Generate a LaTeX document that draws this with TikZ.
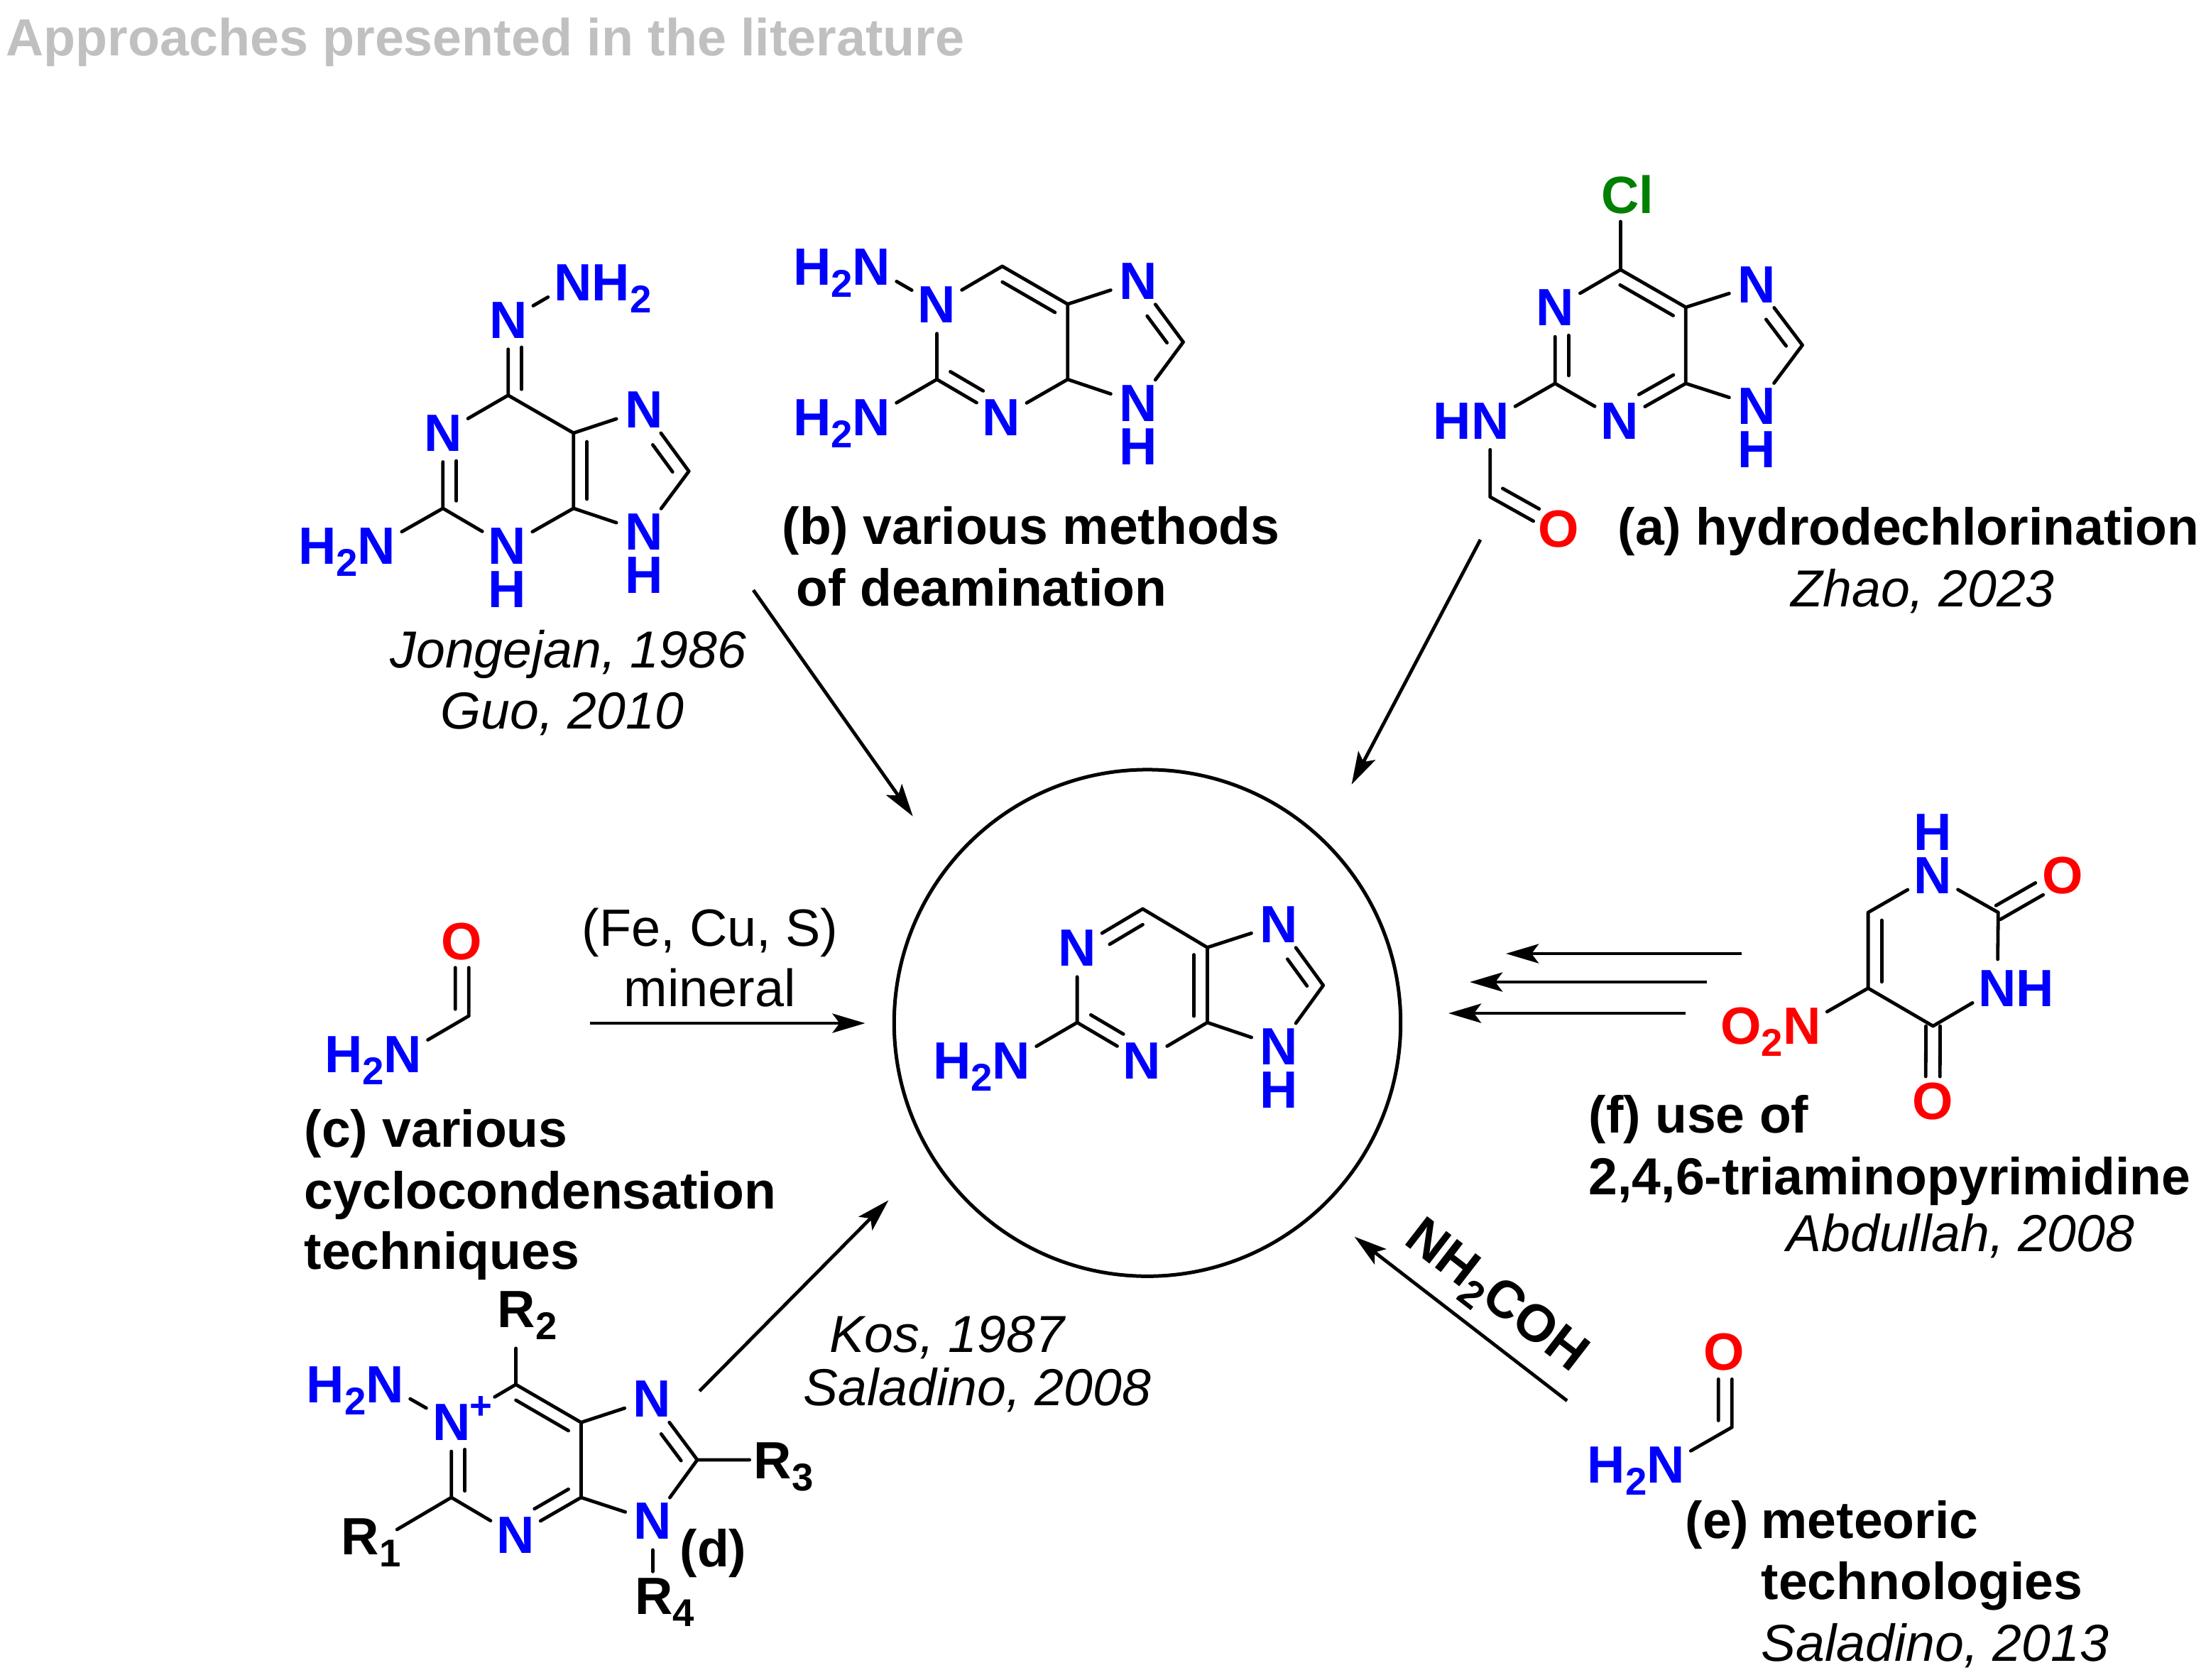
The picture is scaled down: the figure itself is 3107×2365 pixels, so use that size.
\documentclass[tikz,border=0pt]{standalone}
\usepackage{fontspec}
\setmainfont{Liberation Sans}
\usetikzlibrary{calc,arrows.meta}
\definecolor{atomblue}{RGB}{0,0,255}
\definecolor{atomred}{RGB}{255,0,0}
\definecolor{atomgreen}{RGB}{0,128,0}
\definecolor{titlegray}{RGB}{192,192,192}
\newcommand\atomfont{\fontsize{21}{25}\selectfont\bfseries}
\newcommand\subn[1]{\raisebox{-.17cm}[0pt][0pt]{\fontsize{15.5}{15.5}\selectfont\bfseries #1}}
\newcommand\inbond[5]{\draw[bond] ($(#1)!#4!(#2) + (#1)!.19cm!#3:(#2) - (#1)$) -- ($(#1)!#5!(#2) + (#1)!.19cm!#3:(#2) - (#1)$);}
\newcommand\sidebond[5]{\draw[bond] ($(#1)!#4!(#2) + (#1)!.1cm!#3:(#2) - (#1)$) -- ($(#1)!#5!(#2) + (#1)!.1cm!#3:(#2) - (#1)$);}
\tikzset{
 bond/.style={line width=.048cm,line cap=round},
 arr/.style={line width=.048cm,-{Stealth[length=.46cm,width=.27cm,inset=.1cm]}},
 atom/.style={circle,inner sep=0pt,minimum size=.8cm,font=\atomfont,text=atomblue},
 oxy/.style={atom,text=atomred},
 rgroup/.style={inner sep=0pt,font=\atomfont,anchor=base west},
 lab/.style={inner sep=0pt,font=\fontsize{20.85}{25}\selectfont\bfseries,anchor=base west},
 cite/.style={inner sep=0pt,font=\fontsize{20.85}{25}\selectfont\itshape,anchor=base west},
 reag/.style={inner sep=0pt,font=\fontsize{21}{25}\selectfont,anchor=base},
}
\begin{document}
\begin{tikzpicture}[x=.01cm,y=-.01cm]
\useasboundingbox (0,0) rectangle (3107,2365);
\node[inner sep=0pt,anchor=base west,font=\fontsize{20.93}{25}\selectfont\bfseries,text=titlegray] (title) at (8,78) {Approaches presented in the literature};
% hydrazone structure
\coordinate (ac6) at (715.7,556.7);
\coordinate (ac5) at (807.7,609.8);
\coordinate (ac4) at (807.7,715.9);
\coordinate (ac2) at (623.8,715.9);
\coordinate (ac8) at (970.2,663.7);
\node[atom] (an1) at (623.8,609.8) {N};
\node[atom] (an3) at (714.4,769) {N};
\node[atom] (ah3) at (714.4,830.2) {H};
\node[atom] (an7) at (906.8,577.1) {N};
\node[atom] (an9) at (906.8,749) {N};
\node[atom] (ah9) at (906.8,809.8) {H};
\node[atom] (anim) at (715.7,451) {N};
\node[atom] (anh2) at (807,398) {N\rlap{H\subn{2}}};
\node[atom] (ah2n) at (530.4,769) {\llap{H\subn{2}}N};
\draw[bond] (ac6)--(an1) (ac6)--(ac5) (ac5)--(ac4) (ac5)--(an7) (ac4)--(an3) (ac4)--(an9) (ac2)--(an1) (ac2)--(an3) (ac2)--(ah2n) (ac8)--(an7) (ac8)--(an9) (ac6)--(anim) (anim)--(anh2);
\inbond{ac6}{anim}{-90}{.08}{.64}
\inbond{ac2}{an1}{-90}{.10}{.63}
\inbond{ac5}{ac4}{90}{.115}{.877}
\inbond{an7}{ac8}{-90}{.44}{.88}
% deamination structure
\coordinate (bc6) at (1411.6,375);
\coordinate (bc5) at (1503.7,428.3);
\coordinate (bc4) at (1503.7,534.3);
\coordinate (bc2) at (1319.5,534.3);
\coordinate (bc8) at (1666.5,481.7);
\node[atom] (bn1) at (1319.5,429) {N};
\node[atom] (bn3) at (1410.6,587.7) {N};
\node[atom] (bn7) at (1603,396) {N};
\node[atom] (bn9) at (1603,567.7) {N};
\node[atom] (bh9) at (1603,629) {H};
\node[atom] (bn10) at (1227.4,376) {\llap{H\subn{2}}N};
\node[atom] (bn11) at (1227.4,587.7) {\llap{H\subn{2}}N};
\draw[bond] (bc6)--(bn1) (bc6)--(bc5) (bc5)--(bc4) (bc5)--(bn7) (bc4)--(bn3) (bc4)--(bn9) (bc2)--(bn1) (bc2)--(bn3) (bc2)--(bn11) (bc8)--(bn7) (bc8)--(bn9) (bn1)--(bn10);
\inbond{bc6}{bc5}{-90}{.105}{.91}
\inbond{bc2}{bn3}{90}{.103}{.61}
\inbond{bn7}{bc8}{-90}{.44}{.88}
% chloro structure
\coordinate (cc6) at (2282.4,379.8);
\coordinate (cc5) at (2374.3,432.7);
\coordinate (cc4) at (2374.3,540);
\coordinate (cc2) at (2190.2,540);
\coordinate (cc8) at (2538.5,486);
\coordinate (cclend) at (2282.4,312);
\coordinate (ccho) at (2098.7,699.8);
\node[atom,text=atomgreen] (ccl) at (2292,273.7) {Cl};
\node[atom] (cn1) at (2190.2,433.5) {N};
\node[atom] (cn3) at (2281.3,592.6) {N};
\node[atom] (cn7) at (2474.2,400.9) {N};
\node[atom] (cn9) at (2474.2,572.2) {N};
\node[atom] (ch9) at (2474.2,632.9) {H};
\node[atom] (cnh) at (2098.7,592.6) {\llap{H}N};
\node[oxy] (co) at (2195.2,753.8) {\raisebox{-.165cm}[0pt][0pt]{O}};
\draw[bond] (cc6)--(cclend) (cc6)--(cn1) (cc6)--(cc5) (cc5)--(cc4) (cc5)--(cn7) (cc4)--(cn3) (cc4)--(cn9) (cc2)--(cn1) (cc2)--(cn3) (cc2)--(cnh) (cc8)--(cn7) (cc8)--(cn9) (cnh)--(ccho) (ccho)--(co);
\inbond{cc6}{cc5}{-90}{.096}{.91}
\inbond{cc2}{cn1}{-90}{.104}{.636}
\inbond{cc4}{cn3}{-90}{.087}{.61}
\inbond{cn7}{cc8}{-90}{.44}{.88}
\inbond{ccho}{co}{90}{.087}{.62}
% central product
\coordinate (pc6) at (1609.4,1280);
\coordinate (pc5) at (1700.4,1334.3);
\coordinate (pc4) at (1700.4,1440);
\coordinate (pc2) at (1517.1,1440);
\coordinate (pc8) at (1863.7,1387.7);
\node[atom] (pn1) at (1517.1,1335) {N};
\node[atom] (pn3) at (1608.6,1494) {N};
\node[atom] (pn7) at (1801.2,1301.7) {N};
\node[atom] (pn9) at (1801.2,1474) {N};
\node[atom] (ph9) at (1801.2,1535) {H};
\node[atom] (pnh2) at (1424.5,1494) {\llap{H\subn{2}}N};
\draw[bond] (pc6)--(pn1) (pc6)--(pc5) (pc5)--(pc4) (pc5)--(pn7) (pc4)--(pn3) (pc4)--(pn9) (pc2)--(pn1) (pc2)--(pn3) (pc2)--(pnh2) (pc8)--(pn7) (pc8)--(pn9);
\inbond{pn1}{pc6}{-90}{.39}{.895}
\inbond{pc5}{pc4}{-90}{.097}{.915}
\inbond{pc2}{pn3}{90}{.105}{.606}
\inbond{pn7}{pc8}{-90}{.44}{.88}
\node[circle,draw,line width=.05cm,inner sep=0pt,minimum size=7.13cm] (ring) at (1616,1440.6) {};
% formamide c
\coordinate (fcc) at (660.3,1430.7);
\coordinate (fcend) at (660.3,1362.7);
\node[oxy] (fco) at (650.1,1326) {O};
\node[atom] (fcn) at (567.4,1485) {\llap{H\subn{2}}N};
\draw[bond] (fcc)--(fcend) (fcc)--(fcn);
\inbond{fcc}{fcend}{90}{.14}{1}
% formamide e
\coordinate (fec) at (2439.3,2010);
\coordinate (feend) at (2439.3,1942.3);
\node[oxy] (feo) at (2428.6,1904.5) {O};
\node[atom] (fen) at (2346,2063.5) {\llap{H\subn{2}}N};
\draw[bond] (fec)--(feend) (fec)--(fen);
\inbond{fec}{feend}{90}{.14}{1}
% nitro structure
\coordinate (gc2) at (2814.3,1285);
\coordinate (gc4) at (2722.5,1445);
\coordinate (gc5) at (2631.1,1391.7);
\coordinate (gc6) at (2631.1,1285);
\node[atom] (gh1) at (2722.1,1171.7) {H};
\node[atom] (gn1) at (2722.1,1232.7) {N};
\node[oxy] (go2) at (2905.4,1232.7) {O};
\node[atom] (gn3) at (2813.2,1391.7) {N\rlap{H}};
\node[oxy] (go4) at (2722.1,1551) {O};
\node[oxy] (gno) at (2537.9,1445) {\llap{O\subn{2}}N};
\draw[bond] (gc6)--(gn1) (gn1)--(gc2) (gc2)--(gn3) (gn3)--(gc4) (gc4)--(gc5) (gc5)--(gc6) (gc5)--(gno);
\sidebond{gc2}{go2}{90}{.02}{.63}
\sidebond{gc2}{go2}{-90}{-.02}{.64}
\sidebond{gc4}{go4}{90}{0}{.67}
\sidebond{gc4}{go4}{-90}{0}{.67}
\inbond{gc6}{gc5}{90}{.103}{.916}
% salt structure d
\coordinate (dc6) at (726.5,1949.8);
\coordinate (dc5) at (818.4,2003.2);
\coordinate (dc4) at (818.4,2108.9);
\coordinate (dc2) at (635.7,2108.9);
\coordinate (dc8) at (982.1,2055.9);
\coordinate (dr1end) at (559.2,2154);
\coordinate (dr2end) at (726.5,1898.8);
\coordinate (dr3end) at (1055.6,2055.9);
\coordinate (dr4end) at (919.4,2213.2);
\node[atom] (dn1) at (635.7,2003.2) {N};
\node[inner sep=0pt,font=\fontsize{15.5}{15.5}\selectfont\bfseries,text=atomblue] (dplus) at (677,1982.5) {+};
\node[atom] (dn3) at (726,2162.3) {N};
\node[atom] (dn7) at (918.4,1970.5) {N};
\node[atom] (dn9) at (919.4,2142) {N};
\node[atom] (dnh2) at (542.3,1949.8) {\llap{H\subn{2}}N};
\node[rgroup] (dr1) at (480.2,2189.1) {R\subn{1}};
\node[rgroup] (dr2) at (700,1869.9) {R\subn{2}};
\node[rgroup] (dr3) at (1061,2082) {R\subn{3}};
\node[rgroup] (dr4) at (893.5,2273.8) {R\subn{4}};
\node[lab] (dlab) at (957,2206.3) {(d)};
\draw[bond] (dc6)--(dr2end) (dc5)--(dc6) (dc5)--(dc4) (dc5)--(dn7) (dc4)--(dn3) (dc4)--(dn9) (dc2)--(dn1) (dc2)--(dn3) (dc2)--(dr1end) (dc8)--(dn7) (dc8)--(dn9) (dc8)--(dr3end) (dn9)--(dr4end) (dn1)--(dnh2);
\draw[bond,shorten >=.3cm] (dc6)--(dn1);
\inbond{dc6}{dc5}{-90}{.105}{.91}
\inbond{dc2}{dn1}{-90}{.088}{.64}
\inbond{dc4}{dn3}{-90}{.09}{.608}
\inbond{dn7}{dc8}{-90}{.44}{.88}
% arrows
\coordinate (a1s) at (1061,831); \coordinate (a1e) at (1285.7,1149.6);
\coordinate (a2s) at (2085,760); \coordinate (a2e) at (1903.6,1104.8);
\coordinate (a3s) at (830.7,1441); \coordinate (a3e) at (1218.5,1441);
\coordinate (a4s) at (985.2,1959); \coordinate (a4e) at (1251.4,1690.3);
\coordinate (a5s) at (2207.1,1972.7); \coordinate (a5e) at (1907.6,1741.6);
\coordinate (a6s) at (2453,1343); \coordinate (a6e) at (2121,1343);
\coordinate (a7s) at (2404,1383); \coordinate (a7e) at (2070,1383);
\coordinate (a8s) at (2374,1427); \coordinate (a8e) at (2040,1427);
\draw[arr] (a1s)--(a1e);
\draw[arr] (a2s)--(a2e);
\draw[arr] (a3s)--(a3e);
\draw[arr] (a4s)--(a4e);
\draw[arr] (a5s)--(a5e);
\draw[arr] (a6s)--(a6e);
\draw[arr] (a7s)--(a7e);
\draw[arr] (a8s)--(a8e);
% labels
\node[lab] (lb1) at (1101,766) {(b) various methods};
\node[lab] (lb2) at (1121,853) {of deamination};
\node[lab] (la1) at (2278,767) {(a) hydrodechlorination};
\node[cite] (la2) at (2522,854) {Zhao, 2023};
\node[cite] (j1) at (549,940) {Jongejan, 1986};
\node[cite] (j2) at (620,1026) {Guo, 2010};
\node[lab] (lc1) at (428,1615) {(c) various};
\node[lab] (lc2) at (428,1702) {cyclocondensation};
\node[lab] (lc3) at (428,1787) {techniques};
\node[reag] (r1) at (1000,1332) {(Fe, Cu, S)};
\node[reag] (r2) at (1000,1417) {mineral};
\node[cite] (k1) at (1168,1904) {Kos, 1987};
\node[cite] (k2) at (1131,1979) {Saladino, 2008};
\node[lab] (lf1) at (2237,1595) {(f) use of};
\node[lab] (lf2) at (2237,1682) {2,4,6-triaminopyrimidine};
\node[cite] (lf3) at (2516,1762) {Abdullah, 2008};
\node[lab] (le0) at (2373,2166) {(e)};
\node[lab] (le1) at (2480,2166) {meteoric};
\node[lab] (le2) at (2480,2252) {technologies};
\node[cite] (le3) at (2480,2339) {Saladino, 2013};
\node[inner sep=0pt,font=\atomfont,rotate=-37.7] (nhcoh) at (2110,1822) {NH\subn{2}COH};
\end{tikzpicture}
\end{document}
